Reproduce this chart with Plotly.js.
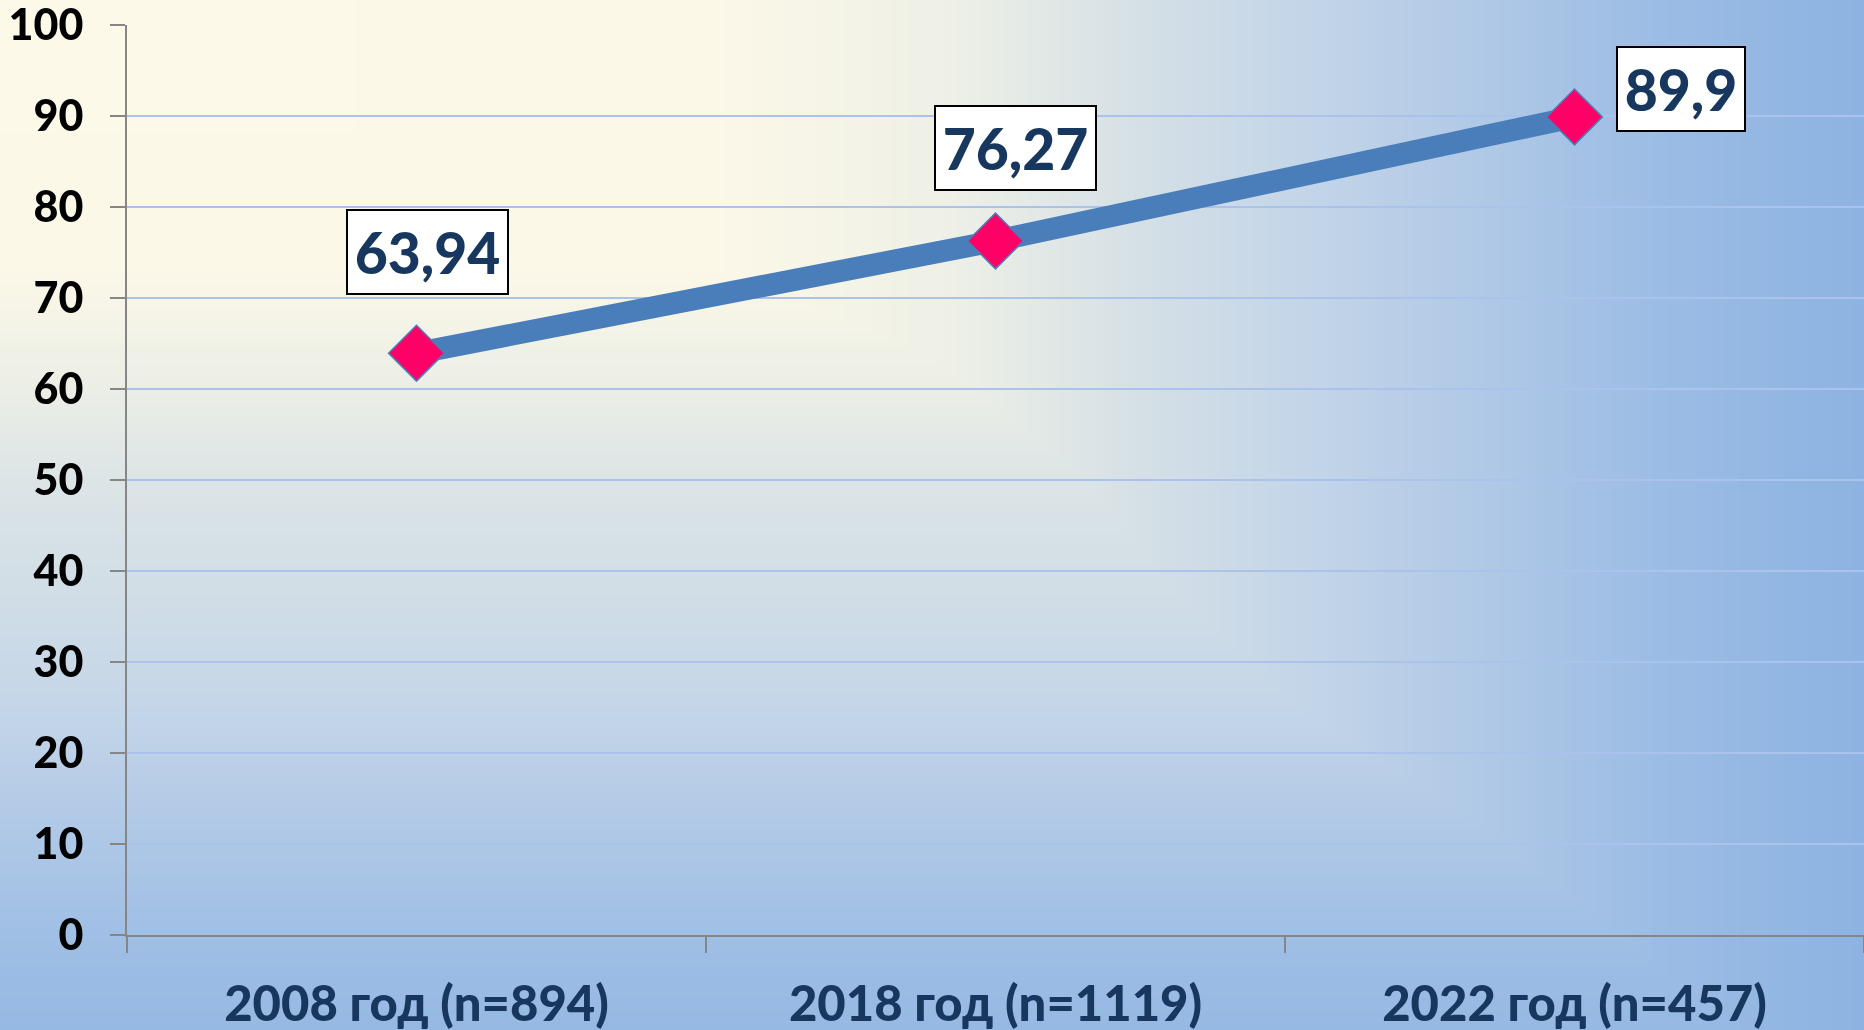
<!DOCTYPE html>
<html>
<head>
<meta charset="utf-8">
<script src="https://cdn.plot.ly/plotly-3.0.1.min.js"></script>
<style>
  html, body { margin: 0; padding: 0; overflow: hidden; width: 1864px; height: 1030px; }
  #bg { position: absolute; left: 0; top: 0; z-index: 0; }
  #chart { position: absolute; left: 0; top: 0; width: 1864px; height: 1030px; z-index: 1; }
</style>
</head>
<body>
<canvas id="bg" width="1864" height="1030"></canvas>
<div id="chart"></div>
<script>
// ---- data ----
const categories = ["2008 год (n=894)", "2018 год (n=1119)", "2022 год (n=457)"];
const values = [63.94, 76.27, 89.9];
const yTicks = [0, 10, 20, 30, 40, 50, 60, 70, 80, 90, 100];

// ---- label placement (styling) ----
const labelShiftX = [10.5, 20, 106.5];
const labelShiftY = [101, 93, 28];
const labelBoxW = [163, 163, 130];

// ---- background gradient (decoration) ----
(function drawBg() {
  const W = 1864, H = 1030;
  const c = document.getElementById('bg');
  const ctx = c.getContext('2d');
  const img = ctx.createImageData(W, H);
  const stops = [
    [0.00, [0xFD, 0xF9, 0xE8]],
    [0.38, [0xFC, 0xF8, 0xE8]],
    [0.51, [0xEE, 0xF0, 0xE6]],
    [0.61, [0xD5, 0xE0, 0xE6]],
    [0.70, [0xC3, 0xD5, 0xE8]],
    [0.80, [0xAF, 0xC8, 0xE6]],
    [0.89, [0x9B, 0xBC, 0xE4]],
    [1.00, [0x8D, 0xB3, 0xE2]]
  ];
  const gy = [[0, 0], [250, 0.36], [357, 0.5], [475, 0.58], [594, 0.63], [713, 0.70], [832, 0.80], [1030, 0.93]];
  function interp(tbl, v) {
    for (let i = 1; i < tbl.length; i++) {
      if (v <= tbl[i][0]) {
        const a = tbl[i - 1], b = tbl[i];
        const f = (v - a[0]) / (b[0] - a[0]);
        return a[1] + (b[1] - a[1]) * f;
      }
    }
    return tbl[tbl.length - 1][1];
  }
  function color(t) {
    t = Math.max(0, Math.min(1, t));
    for (let i = 1; i < stops.length; i++) {
      if (t <= stops[i][0]) {
        const a = stops[i - 1], b = stops[i];
        const f = (t - a[0]) / (b[0] - a[0]);
        return [0, 1, 2].map(k => a[1][k] + (b[1][k] - a[1][k]) * f);
      }
    }
    return stops[stops.length - 1][1];
  }
  const gRow = new Float32Array(H);
  for (let y = 0; y < H; y++) gRow[y] = interp(gy, y);
  for (let y = 0; y < H; y++) {
    for (let x = 0; x < W; x++) {
      const t = Math.max(x / W, gRow[y]);
      const col = color(t);
      const idx = (y * W + x) * 4;
      img.data[idx] = col[0];
      img.data[idx + 1] = col[1];
      img.data[idx + 2] = col[2];
      img.data[idx + 3] = 255;
    }
  }
  ctx.putImageData(img, 0, 0);
})();

const FONT = "Lato, Carlito, Calibri, 'Open Sans', sans-serif";

const trace = {
  type: 'scatter',
  mode: 'lines+markers',
  x: categories,
  y: values,
  line: { color: '#4A7EBB', width: 22 },
  marker: { symbol: 'diamond', size: 43, color: '#FF0066', line: { color: '#4A7EBB', width: 1.5 } },
  cliponaxis: false,
  hoverinfo: 'skip'
};

const annotations = categories.map((c, i) => ({
  x: c,
  y: values[i],
  xref: 'x',
  yref: 'y',
  text: String(values[i]).replace('.', ','),
  showarrow: false,
  xshift: labelShiftX[i],
  yshift: labelShiftY[i],
  xanchor: 'center',
  yanchor: 'middle',
  font: { family: FONT, size: 57, color: '#17375E', weight: 900 },
  bgcolor: '#FFFFFF',
  bordercolor: '#000000',
  borderwidth: 2,
  borderpad: 0,
  width: labelBoxW[i] - 4,
  height: 82
}));

const layout = {
  width: 1864,
  height: 1030,
  autosize: false,
  margin: { l: 127, r: 0, t: 25, b: 95, pad: 0 },
  paper_bgcolor: 'rgba(0,0,0,0)',
  plot_bgcolor: 'rgba(0,0,0,0)',
  showlegend: false,
  xaxis: {
    type: 'category',
    range: [-0.5, 2.5],
    tickson: 'boundaries',
    ticks: 'outside',
    ticklen: 16,
    tickwidth: 2,
    tickcolor: '#868686',
    showline: true,
    linecolor: '#868686',
    linewidth: 2,
    showgrid: false,
    zeroline: false,
    ticklabelstandoff: 25,
    ticklabeloverflow: 'allow',
    tickfont: { family: FONT, size: 49, color: '#17375E', weight: 900 },
    fixedrange: true
  },
  yaxis: {
    range: [0, 100],
    tickmode: 'array',
    tickvals: yTicks,
    ticktext: yTicks.map(String),
    ticks: 'outside',
    ticklen: 15,
    tickwidth: 2,
    tickcolor: '#868686',
    showline: true,
    linecolor: '#868686',
    linewidth: 2,
    showgrid: true,
    gridcolor: '#ABC3EC',
    gridwidth: 2,
    zeroline: false,
    ticklabelstandoff: 18,
    ticklabeloverflow: 'allow',
    tickfont: { family: FONT, size: 43, color: '#000000', weight: 900 },
    fixedrange: true
  },
  annotations: annotations
};

Plotly.newPlot('chart', [trace], layout, { displayModeBar: false, staticPlot: true });
</script>
</body>
</html>
